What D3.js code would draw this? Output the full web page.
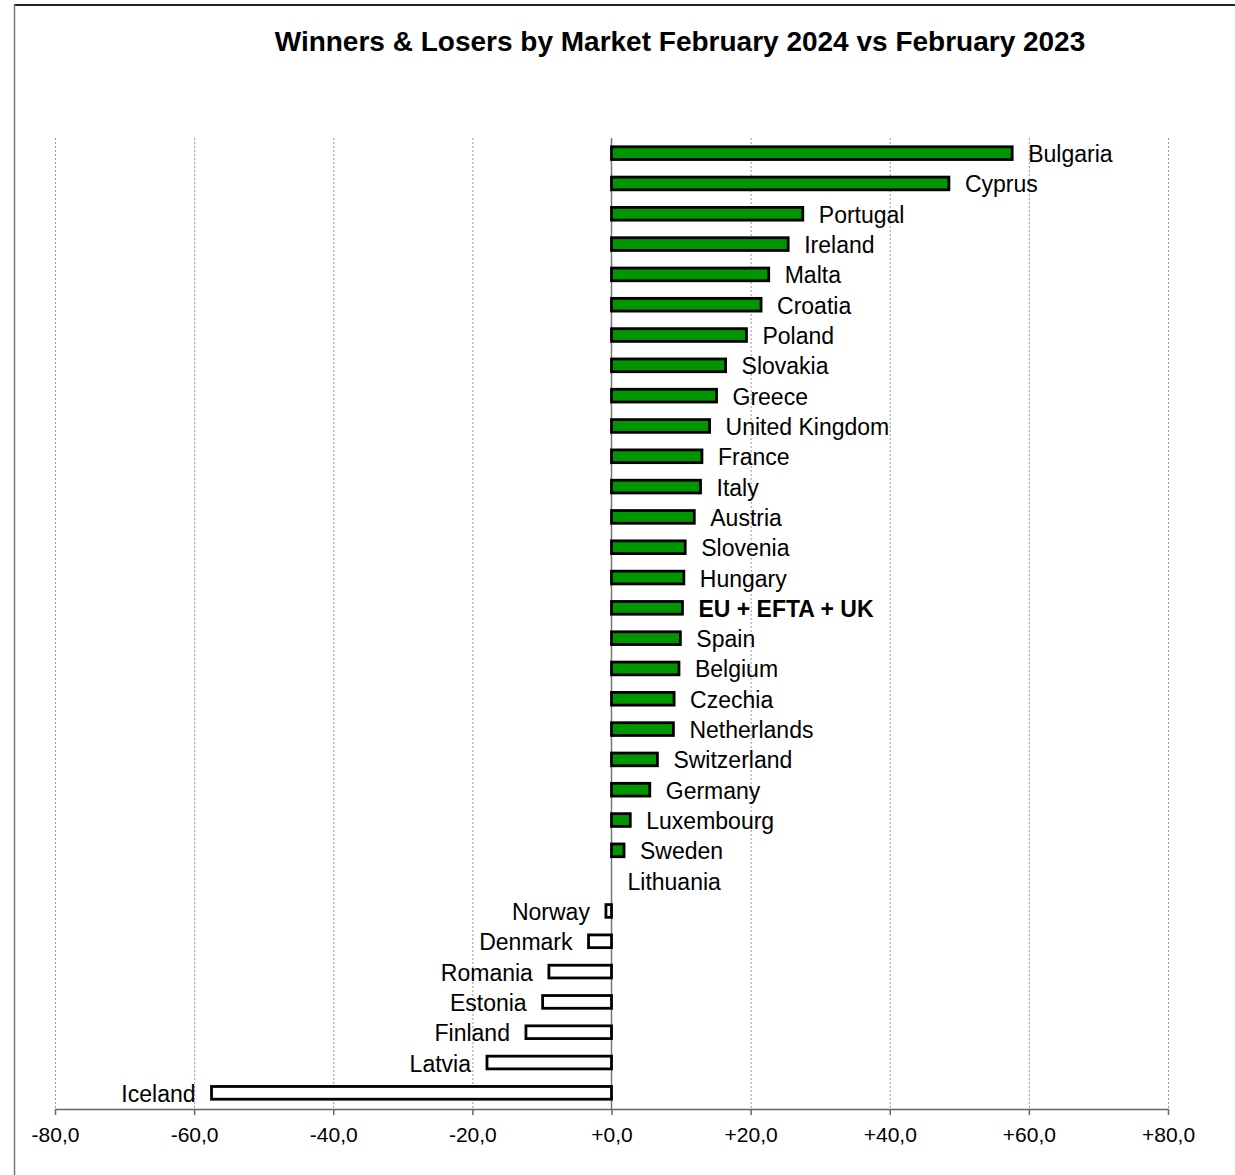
<!DOCTYPE html>
<html>
<head>
<meta charset="utf-8">
<script src="https://cdn.jsdelivr.net/npm/d3@7/dist/d3.min.js"></script>
<style>
  html, body { margin: 0; padding: 0; background: #fff; }
  svg { display: block; font-family: "Liberation Sans", Arial, sans-serif; }
</style>
</head>
<body>
<svg id="chart" width="1235" height="1175"></svg>
<script>
const title = "Winners & Losers by Market February 2024 vs February 2023";
const markets = ["Bulgaria","Cyprus","Portugal","Ireland","Malta","Croatia","Poland","Slovakia","Greece","United Kingdom","France","Italy","Austria","Slovenia","Hungary","EU + EFTA + UK","Spain","Belgium","Czechia","Netherlands","Switzerland","Germany","Luxembourg","Sweden","Lithuania","Norway","Denmark","Romania","Estonia","Finland","Latvia","Iceland"];
const changes = [57.6,48.5,27.5,25.4,22.6,21.5,19.4,16.4,15.1,14.1,13.0,12.8,11.9,10.6,10.4,10.2,9.9,9.7,9.0,8.9,6.6,5.5,2.7,1.8,0.0,-0.8,-3.3,-9.0,-9.9,-12.3,-17.9,-57.5];
const boldMarkets = ["EU + EFTA + UK"];
const tickValues = [-80,-60,-40,-20,0,20,40,60,80];

const svg = d3.select("#chart");

// frame
svg.append("line").attr("x1",14).attr("x2",1235).attr("y1",5).attr("y2",5)
  .attr("stroke","#222").attr("stroke-width",2);
svg.append("line").attr("x1",14.5).attr("x2",14.5).attr("y1",4).attr("y2",1175)
  .attr("stroke","#777").attr("stroke-width",1.5);

svg.append("text").attr("x",680).attr("y",51).attr("text-anchor","middle")
  .attr("font-size",28).attr("font-weight","bold").attr("fill","#000").text(title);

const x = d3.scaleLinear().domain([-80,80]).range([55,1168]);
const y = d3.scaleBand().domain(markets).range([138,1108]).paddingInner(0.58).paddingOuter(0.29);

// gridlines
svg.append("g").selectAll("line").data(tickValues.filter(v => v !== 0)).join("line")
  .attr("x1", d => x(d)+0.5).attr("x2", d => x(d)+0.5)
  .attr("y1",138).attr("y2",1109)
  .attr("stroke","#999").attr("stroke-width",1).attr("stroke-dasharray","2,2");

// axis
const fmt = v => (v > 0 ? "+" : v < 0 ? "-" : "+") + Math.abs(v).toFixed(1).replace(".", ",");
const axis = d3.axisBottom(x).tickValues(tickValues).tickSize(6).tickSizeOuter(0).tickPadding(12).tickFormat(fmt);
const ag = svg.append("g").attr("transform","translate(0,1109)").call(axis);
ag.select(".domain").attr("stroke","#666").attr("stroke-width",1.5);
ag.selectAll(".tick line").attr("stroke","#666").attr("stroke-width",1.5);
ag.selectAll(".tick text").attr("font-size",21).attr("fill","#000")
  .attr("font-family",'"Liberation Sans", Arial, sans-serif');

// zero line
svg.append("line").attr("x1",x(0)).attr("x2",x(0)).attr("y1",138).attr("y2",1109)
  .attr("stroke","#777").attr("stroke-width",1.5);

// bars
svg.append("g").selectAll("rect").data(markets).join("rect")
  .attr("x", (d,i) => Math.min(x(0), x(changes[i])))
  .attr("y", d => y(d))
  .attr("width", (d,i) => Math.abs(x(changes[i]) - x(0)))
  .attr("height", y.bandwidth())
  .attr("fill", (d,i) => changes[i] >= 0 ? "#009600" : "#ffffff")
  .attr("stroke", "#000").attr("stroke-width", (d,i) => changes[i] === 0 ? 0 : 2.8);

// labels
svg.append("g").selectAll("text").data(markets).join("text")
  .attr("x", (d,i) => changes[i] >= 0 ? x(changes[i]) + 16 : x(changes[i]) - 16)
  .attr("y", d => y(d) + y.bandwidth()/2 + 9)
  .attr("text-anchor", (d,i) => changes[i] >= 0 ? "start" : "end")
  .attr("font-size", 23)
  .attr("font-weight", d => boldMarkets.includes(d) ? "bold" : "normal")
  .attr("fill","#000")
  .text(d => d);
</script>
</body>
</html>
